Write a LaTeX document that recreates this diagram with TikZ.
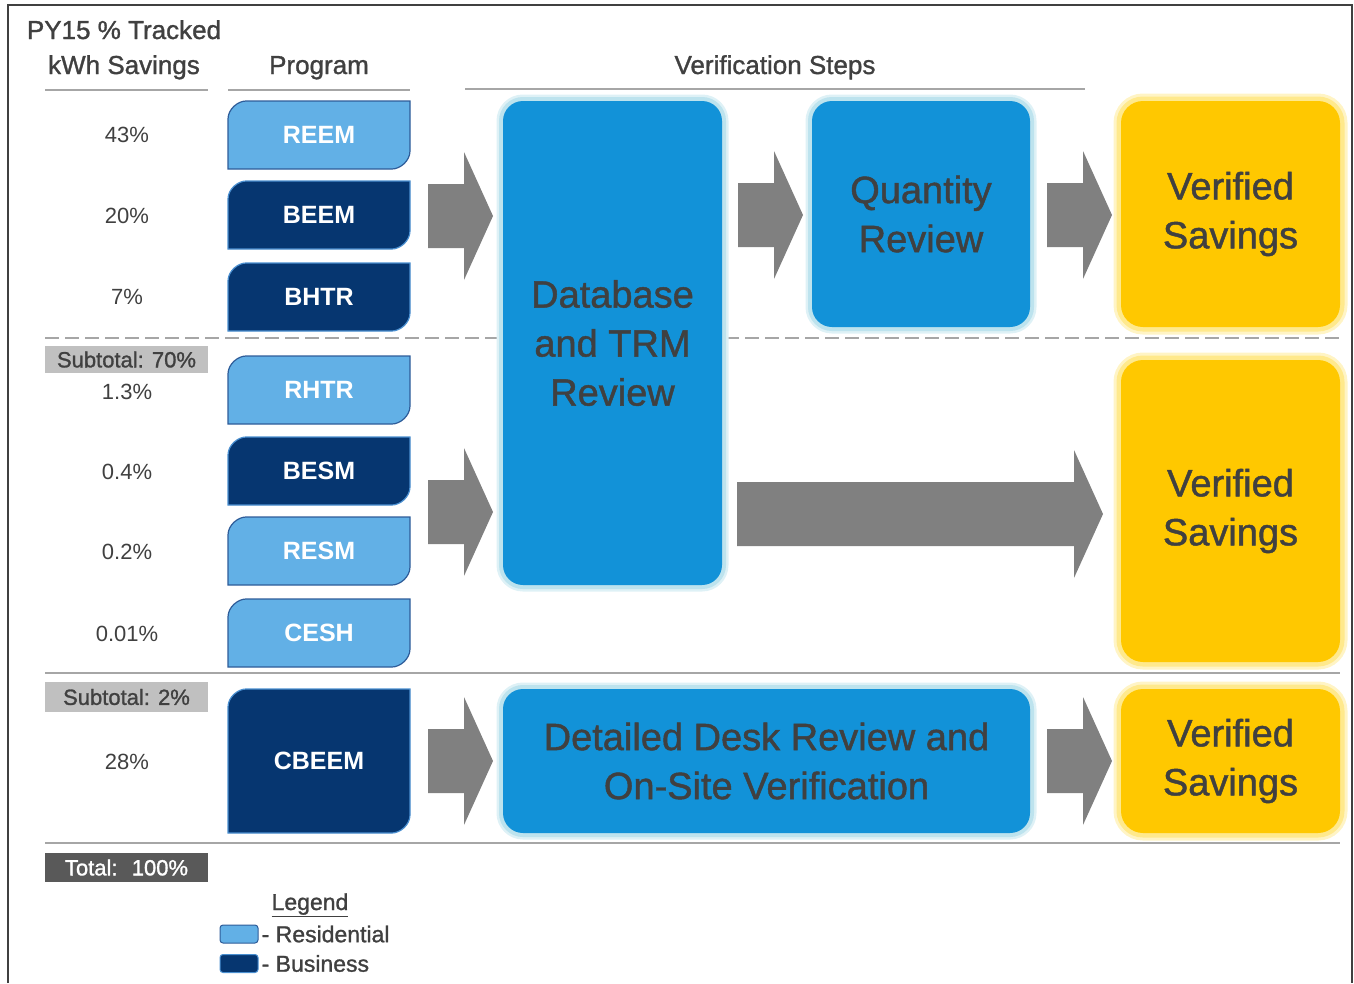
\documentclass[tikz,border=0pt]{standalone}
\usepackage{fontspec}
\setmainfont{Liberation Sans}
\newfontfamily\medfont[FakeBold=1.2]{Liberation Sans}
\usetikzlibrary{calc,positioning}

\definecolor{txtgray}{HTML}{404040}
\definecolor{linegray}{HTML}{A6A6A6}
\definecolor{arrowgray}{HTML}{808080}
\definecolor{resblue}{HTML}{62B0E6}
\definecolor{resedge}{HTML}{2E5C99}
\definecolor{busblue}{HTML}{063670}
\definecolor{busedge}{HTML}{4A8FD0}
\definecolor{stepblue}{HTML}{1292D8}
\definecolor{stepglow}{HTML}{BDE3EE}
\definecolor{savyellow}{HTML}{FFC800}
\definecolor{savglow}{HTML}{FFE98C}
\definecolor{subgray}{HTML}{C0C0C0}
\definecolor{totgray}{HTML}{595959}

\newcommand{\progbox}[6]{%
	\draw[draw=#5, fill=#4, line width=1.2pt] (228,#3) -- (228,#2+18)
		.. controls (228,#2+8) and (238,#2) .. (246,#2)
		-- (410,#2) -- (410,#3-18)
		.. controls (410,#3-8) and (400,#3) .. (392,#3) -- cycle;
	\node[progtxt] (#1) at (319,{(#2+#3)/2}) {#6};}

\newcommand{\blockarrow}[2]{%
	\fill[arrowgray] let \p1=(#1), \p2=(#2) in
		(\x1,\y1+32pt) -- (\x2-29pt,\y1+32pt) -- (\x2-29pt,\y1+64pt) -- (\x2,\y1)
		-- (\x2-29pt,\y1-64pt) -- (\x2-29pt,\y1-32pt) -- (\x1,\y1-32pt) -- cycle;}

\begin{document}
\begin{tikzpicture}[x=1pt,y=-1pt]
	\tikzstyle{every node}=[inner sep=0pt, text=txtgray]
	\tikzstyle{hdr}=[anchor=base, font=\fontsize{26}{30}\medfont]
	\tikzstyle{pct}=[anchor=base, font=\fontsize{22}{26}\selectfont]
	\tikzstyle{progtxt}=[text=white, font=\fontsize{25}{28}\selectfont\bfseries]
	\tikzstyle{rule}=[draw=linegray, line width=2.5pt]
	\tikzstyle{subbox}=[fill=subgray, minimum width=163pt, font=\fontsize{22}{26}\medfont]
	\tikzstyle{stepbox}=[rectangle, rounded corners=20pt, fill=stepblue,
		preaction={draw=stepglow!50, line width=13pt},
		preaction={draw=stepglow, line width=8pt},
		align=center, font=\fontsize{38}{49}\medfont]
	\tikzstyle{savbox}=[rectangle, rounded corners=22pt, fill=savyellow,
		preaction={draw=savglow!50, line width=15pt},
		preaction={draw=savglow, line width=9pt},
		minimum width=219pt, align=center, font=\fontsize{38}{49}\medfont]
	\tikzstyle{swatch}=[rectangle, rounded corners=3pt, line width=1pt, minimum width=38pt, minimum height=18pt]
	\tikzstyle{legtxt}=[font=\fontsize{23}{27}\medfont]

	\useasboundingbox (0,0) rectangle (1354,983);
	\draw[txtgray, line width=2.5pt] (8,983) -- (8,5) -- (1352,5) -- (1352,983);

	\node[hdr] (hpy) at (124,39) {PY15 \% Tracked};
	\node[hdr] (hkwh) at (124,74) {kWh Savings};
	\node[hdr] (hprog) at (319,74) {Program};
	\node[hdr] (hsteps) at (775,74) {Verification Steps};
	\draw[rule] (45,90) -- (208,90);
	\draw[rule] (228,90) -- (410,90);
	\draw[rule] (465,89) -- (1085,89);

	\draw[rule, line width=2pt, dash pattern=on 14pt off 6pt] (45,338) -- (1340,338);
	\draw[rule, line width=2pt] (45,673) -- (1340,673);
	\draw[rule, line width=2pt] (45,843) -- (1340,843);

	\node[pct] (p1) at (127,142) {43\%};
	\node[pct] (p2) at (127,223) {20\%};
	\node[pct] (p3) at (127,304) {7\%};
	\node[pct] (p4) at (127,399) {1.3\%};
	\node[pct] (p5) at (127,479) {0.4\%};
	\node[pct] (p6) at (127,559) {0.2\%};
	\node[pct] (p7) at (127,641) {0.01\%};
	\node[pct] (p8) at (127,769) {28\%};

	\node[subbox, minimum height=27pt] (sub1) at (126.5,359.5) {Subtotal: 70\%};
	\node[subbox, minimum height=30pt] (sub2) at (126.5,697) {Subtotal: 2\%};
	\node[subbox, minimum height=29pt, fill=totgray, text=white] (tot) at (126.5,867.5) {Total: \ 100\%};

	\progbox{reem}{101}{169}{resblue}{resedge}{REEM}
	\progbox{beem}{181}{249}{busblue}{busedge}{BEEM}
	\progbox{bhtr}{263}{331}{busblue}{busedge}{BHTR}
	\progbox{rhtr}{356}{424}{resblue}{resedge}{RHTR}
	\progbox{besm}{437}{505}{busblue}{busedge}{BESM}
	\progbox{resm}{517}{585}{resblue}{resedge}{RESM}
	\progbox{cesh}{599}{667}{resblue}{resedge}{CESH}
	\progbox{cbeem}{689}{833}{busblue}{busedge}{CBEEM}

	\node[stepbox, minimum width=219pt, minimum height=484pt] (db) at (612.5,343) {Database\\and TRM\\Review};
	\node[stepbox, minimum width=218pt, minimum height=226pt] (qr) at (921,214) {Quantity\\Review};
	\node[stepbox, minimum width=527pt, minimum height=144pt] (desk) at (766.5,761) {Detailed Desk Review and\\On-Site Verification};

	\node[savbox, minimum height=226pt] (vs1) at (1230.5,214) {Verified\\Savings};
	\node[savbox, minimum height=302pt] (vs2) at (1230.5,511) {Verified\\Savings};
	\node[savbox, minimum height=144pt] (vs3) at (1230.5,761) {Verified\\Savings};

	\coordinate (a1s) at (428,216); \coordinate (a1e) at (493,216);
	\coordinate (a2s) at (428,512); \coordinate (a2e) at (493,512);
	\coordinate (a3s) at (428,761); \coordinate (a3e) at (493,761);
	\coordinate (a4s) at (738,215); \coordinate (a4e) at (803,215);
	\coordinate (a5s) at (1047,215); \coordinate (a5e) at (1112,215);
	\coordinate (a6s) at (737,514); \coordinate (a6e) at (1103,514);
	\coordinate (a7s) at (1047,761); \coordinate (a7e) at (1112,761);
	\blockarrow{a1s}{a1e}
	\blockarrow{a2s}{a2e}
	\blockarrow{a3s}{a3e}
	\blockarrow{a4s}{a4e}
	\blockarrow{a5s}{a5e}
	\blockarrow{a6s}{a6e}
	\blockarrow{a7s}{a7e}

	\node[legtxt, anchor=base] (leg) at (310,910) {\underline{Legend}};
	\node[swatch, fill=resblue, draw=resedge] (swres) at (239,934) {};
	\node[legtxt, right=3pt of swres] (lres) {- Residential};
	\node[swatch, fill=busblue, draw=busedge] (swbus) at (239,963.5) {};
	\node[legtxt, right=3pt of swbus] (lbus) {- Business};
\end{tikzpicture}
\end{document}
